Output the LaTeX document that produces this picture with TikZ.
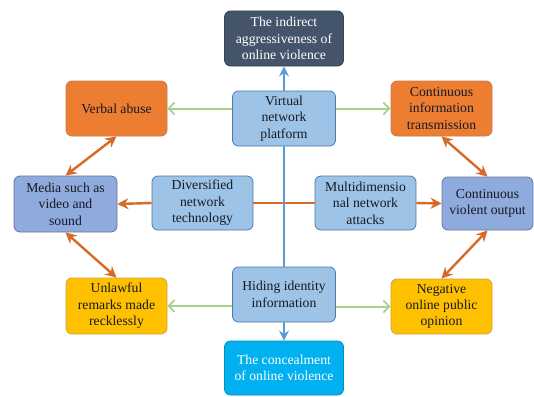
\documentclass[tikz,border=0pt]{standalone}
\usepackage{fontspec}
\setmainfont{Liberation Serif}
\usepackage{xcolor}
\definecolor{hnavy}{RGB}{68,84,106}
\definecolor{horange}{RGB}{237,125,49}
\definecolor{horange0}{RGB}{214,106,40}
\definecolor{hblue}{RGB}{157,195,230}
\definecolor{hblue0}{RGB}{143,170,220}
\definecolor{hline}{RGB}{91,155,213}
\definecolor{hcyan}{RGB}{0,176,240}
\definecolor{hgold}{RGB}{255,192,0}
\definecolor{hgreen}{RGB}{169,209,142}
\definecolor{htext}{RGB}{22,26,36}
\usetikzlibrary{arrows.meta}
\tikzset{box/.style={draw,rounded corners=6pt,align=center,inner sep=2pt,line width=0.8pt,text=htext,
  font=\fontsize{13.7}{16.4}\selectfont},
  wbox/.style={box,minimum width=119pt,minimum height=55pt,text=white},
  nbox/.style={box,minimum width=103pt,minimum height=55pt},
  obox/.style={box,minimum width=101pt,minimum height=55pt},
  garrow/.style={hgreen,line width=2pt,-{Straight Barb[length=6pt,width=12pt,line width=1.8pt]}},
  oarrow/.style={horange0,line width=2.4pt,-{Stealth[length=11pt,width=11pt]}},
  oboth/.style={horange0,line width=2.4pt,{Stealth[length=11pt,width=11pt]}-{Stealth[length=11pt,width=11pt]}},
  barrow/.style={hline,line width=2.2pt,-{Stealth[length=10pt,width=10pt]}}}

\begin{document}
\begin{tikzpicture}[x=1pt,y=-1pt]
\useasboundingbox (0,0) rectangle (534,396);
\node [wbox,fill=hnavy,draw=hnavy!80!black](top) at (284,38.5) {The indirect\\aggressiveness of\\online violence};
\node [nbox,fill=hblue,draw=hline!80!black](virtual) at (284,118.5) {Virtual\\network\\platform};
\node [obox,fill=horange,draw=horange!60!gray](verbal) at (116.5,108.5) {Verbal abuse};
\node [obox,fill=horange,draw=horange!60!gray](contInfo) at (441.5,108.5) {Continuous\\information\\transmission};
\node [nbox,fill=hblue0,draw=hblue0!70!black,minimum height=56pt](media) at (65.5,204) {Media such as\\video and\\sound};
\node [obox,fill=hblue,draw=hline!80!black,minimum height=54pt](divers) at (202.5,203) {Diversified\\network\\technology};
\node [obox,fill=hblue,draw=hline!80!black,minimum height=54pt](multi) at (365.5,203) {Multidimensio\\nal network\\attacks};
\node [obox,fill=hblue0,draw=hblue0!70!black,minimum width=91pt,minimum height=53pt](violent) at (487.5,203.5) {Continuous\\violent output};
\node [obox,fill=hgold,draw=hgold!60!gray,minimum height=56pt](unlawful) at (116.5,306) {Unlawful\\remarks made\\recklessly};
\node [nbox,fill=hblue,draw=hline!80!black](hiding) at (284,294.5) {Hiding identity\\information};
\node [obox,fill=hgold,draw=hgold!60!gray](negative) at (441.5,306.5) {Negative\\online public\\opinion};
\node [wbox,fill=hcyan,draw=hcyan!80!black,minimum height=54pt](conceal) at (284,368) {The concealment\\of online violence};

\draw [garrow] (verbal.east -| virtual.west) -- (verbal.east);
\draw [garrow] (contInfo.west -| virtual.east) -- (contInfo.west);
\draw [garrow] (unlawful.east -| hiding.west) -- (unlawful.east);
\draw [garrow] (negative.west -| hiding.east) -- (negative.west);
\draw [oarrow] (divers.west) -- (media.east);
\draw [horange0,line width=2.4pt] (divers.east) -- (multi.west);
\draw [oarrow] (multi.east) -- (violent.west);
\draw [oboth] (verbal.south) -- (media.north);
\draw [oboth] (media.south) -- (unlawful.north);
\draw [oboth] (contInfo.south) -- (violent.north);
\draw [oboth] (violent.south) -- (negative.north);
\draw [barrow] (virtual.north) -- (top.south);
\draw [hline,line width=2.2pt] (virtual.south) -- (hiding.north);
\draw [barrow] (hiding.south) -- (conceal.north);
\end{tikzpicture}
\end{document}
